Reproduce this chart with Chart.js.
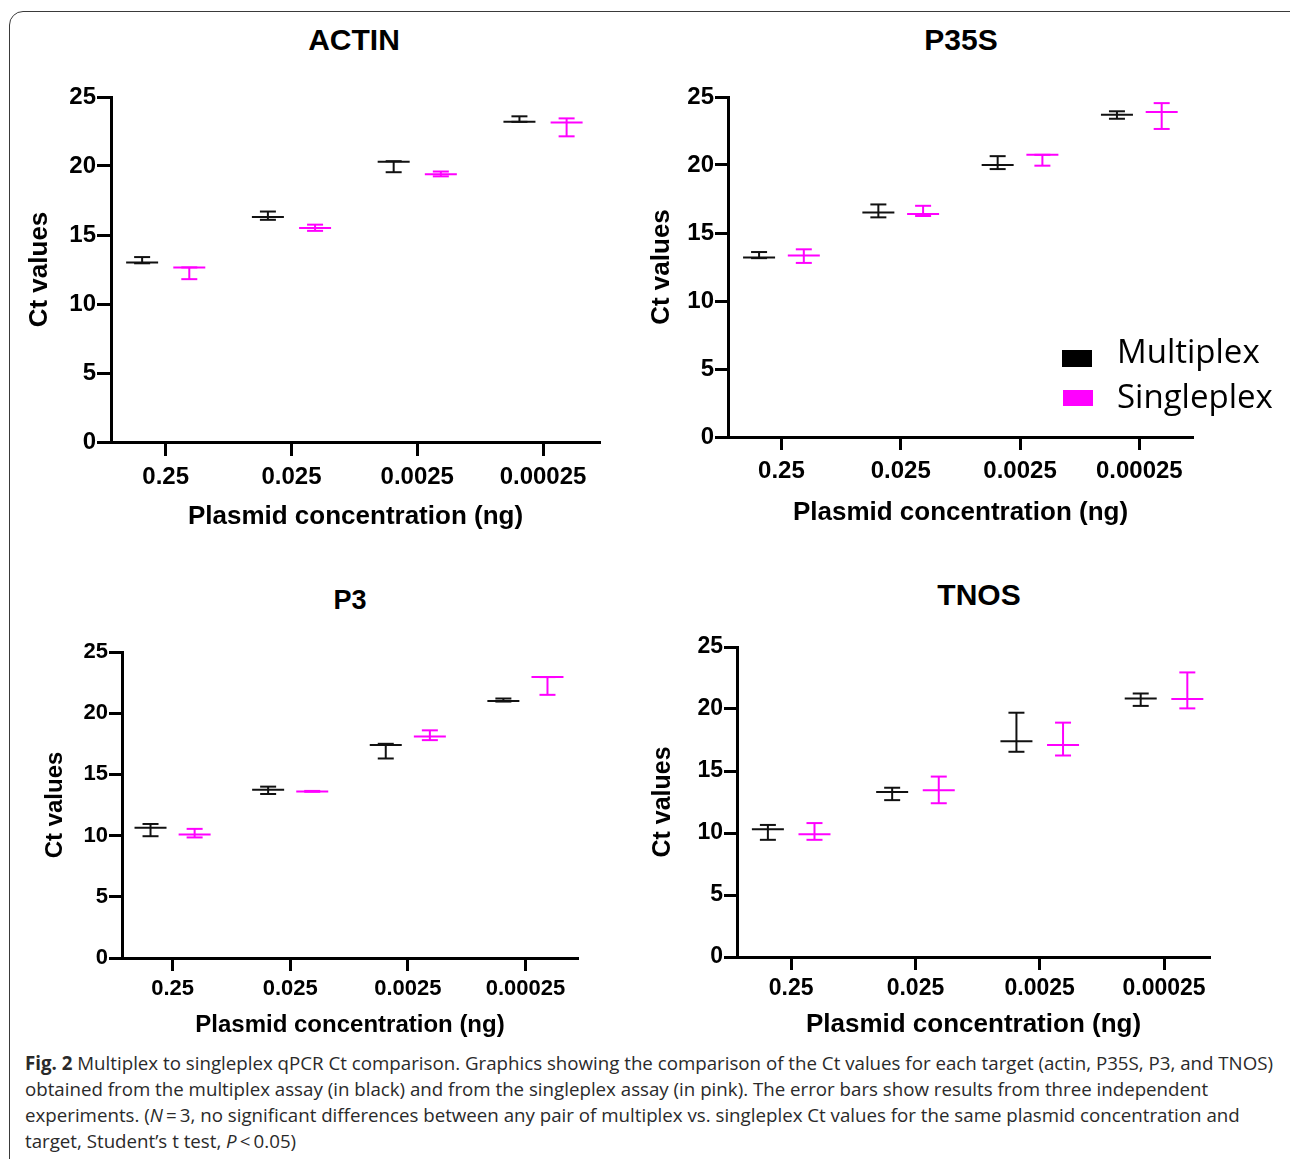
<!DOCTYPE html>
<html>
<head>
<meta charset="utf-8">
<script src="https://cdn.jsdelivr.net/npm/chart.js@4.4.0/dist/chart.umd.min.js"></script>
<style>
  body { margin: 0; background: #fff; }
  #page { position: relative; width: 1290px; height: 1159px; overflow: hidden; background: #fff; }
  #frame { position: absolute; left: 9px; top: 11px; width: 1320px; height: 1220px; border: 1.5px solid #3a3a3a; border-radius: 14px; }
  canvas { position: absolute; }
  .ttl { position: absolute; font-family: "Liberation Sans", Arial, sans-serif; font-weight: bold; line-height: 1; color: #000; transform: translate(-50%, -50%); white-space: nowrap; }
  .lg-box { position: absolute; }
  .lg-txt { position: absolute; font-family: "Open Sans", sans-serif; font-size: 33px; line-height: 1; color: #000; transform: translateY(-50%); white-space: nowrap; }
  #caption { position: absolute; left: 25px; top: 1050px; font-family: "Open Sans", sans-serif; font-size: 19px; line-height: 26px; color: #2a2a2a; transform-origin: 0 0; white-space: nowrap; }
</style>
</head>
<body>
<div id="page">
  <div id="frame"></div>

  <div class="ttl" style="left:354px; top:40px; font-size:30px;">ACTIN</div>
  <div class="ttl" style="left:961px; top:40px; font-size:30px;">P35S</div>
  <div class="ttl" style="left:350px; top:600px; font-size:27px;">P3</div>
  <div class="ttl" style="left:979px; top:595px; font-size:30px;">TNOS</div>

  <canvas id="actin"></canvas>
  <canvas id="p35s"></canvas>
  <canvas id="p3"></canvas>
  <canvas id="tnos"></canvas>

  <!-- legend sits inside the P35S panel -->
  <div class="lg-box" style="left:1062px; top:350px; width:30px; height:17px; background:#000;"></div>
  <div class="lg-box" style="left:1063px; top:390px; width:30px; height:16px; background:#ff00ff;"></div>
  <div class="lg-txt" style="left:1117px; top:350px;">Multiplex</div>
  <div class="lg-txt" style="left:1117px; top:395px;">Singleplex</div>

  <div id="caption">
    <div id="capLine1"><b>Fig. 2</b> Multiplex to singleplex qPCR Ct comparison. Graphics showing the comparison of the Ct values for each target (actin, P35S, P3, and TNOS)</div>
    <div>obtained from the multiplex assay (in black) and from the singleplex assay (in pink). The error bars show results from three independent</div>
    <div>experiments. (<i>N</i>&#8201;=&#8201;3, no significant differences between any pair of multiplex vs. singleplex Ct values for the same plasmid concentration and</div>
    <div>target, Student’s t test, <i>P</i>&#8201;&lt;&#8201;0.05)</div>
  </div>
</div>

<script>
// categories (plasmid concentration, ng)
const concLabels = ['0.25', '0.025', '0.0025', '0.00025'];

// ACTIN
const actinMultiMean   = [13.0, 16.3, 20.3, 23.2];
const actinMultiLow    = [12.95, 16.1, 19.55, 23.2];
const actinMultiHigh   = [13.4, 16.7, 20.35, 23.6];
const actinSingleMean  = [12.65, 15.5, 19.4, 23.15];
const actinSingleLow   = [11.8, 15.3, 19.25, 22.15];
const actinSingleHigh  = [12.65, 15.75, 19.6, 23.45];

// P35S
const p35sMultiMean    = [13.2, 16.5, 20.0, 23.7];
const p35sMultiLow     = [13.15, 16.15, 19.7, 23.4];
const p35sMultiHigh    = [13.6, 17.1, 20.65, 23.95];
const p35sSingleMean   = [13.35, 16.4, 20.75, 23.9];
const p35sSingleLow    = [12.8, 16.25, 19.95, 22.65];
const p35sSingleHigh   = [13.8, 17.0, 20.75, 24.55];

// P3
const p3MultiMean      = [10.65, 13.75, 17.4, 21.0];
const p3MultiLow       = [9.95, 13.4, 16.3, 20.95];
const p3MultiHigh      = [10.95, 14.0, 17.5, 21.2];
const p3SingleMean     = [10.1, 13.6, 18.1, 22.95];
const p3SingleLow      = [9.85, 13.58, 17.8, 21.5];
const p3SingleHigh     = [10.55, 13.65, 18.6, 22.95];

// TNOS
const tnosMultiMean    = [10.3, 13.3, 17.4, 20.85];
const tnosMultiLow     = [9.45, 12.65, 16.55, 20.25];
const tnosMultiHigh    = [10.65, 13.65, 19.7, 21.25];
const tnosSingleMean   = [9.9, 13.45, 17.1, 20.8];
const tnosSingleLow    = [9.45, 12.4, 16.25, 20.05];
const tnosSingleHigh   = [10.8, 14.55, 18.9, 22.95];

const black = '#111111';
const pink = '#ff00ff';
const fontFamily = '"Liberation Sans", Arial, sans-serif';

// mean line + caps, the stem itself is the thin floating bar
const errorBars = {
    id: 'errorBars',
    afterDatasetsDraw(chart) {
        const ctx = chart.ctx;
        const yScale = chart.scales.y;
        chart.data.datasets.forEach((ds, di) => {
            const meta = chart.getDatasetMeta(di);
            ctx.save();
            ctx.strokeStyle = ds.backgroundColor;
            ctx.lineWidth = 2;
            meta.data.forEach((bar, i) => {
                const hline = (val, half) => {
                    const py = yScale.getPixelForValue(val);
                    ctx.beginPath();
                    ctx.moveTo(bar.x - half, py);
                    ctx.lineTo(bar.x + half, py);
                    ctx.stroke();
                };
                hline(ds.means[i], 16);
                hline(ds.data[i].y[0], 8);
                hline(ds.data[i].y[1], 8);
            });
            ctx.restore();
        });
    }
};

function makePanel(id, p) {
    const canvas = document.getElementById(id);
    const left = p.l - p.yW;
    const top = p.t - 20;
    const width = p.r + 12 - left;
    const height = p.b + p.xH - top;
    canvas.width = width;
    canvas.height = height;
    canvas.style.left = left + 'px';
    canvas.style.top = top + 'px';
    canvas.style.width = width + 'px';
    canvas.style.height = height + 'px';

    const yTitlePad = p.yTitleX - left - p.yTitleSize * 0.6;
    const xTitlePad = (top + height) - p.xTitleY - p.xTitleSize * 0.6;

    // x is the category index, so the axis ends can sit where the figure has them
    const toPoints = (low, high) => low.map((v, i) => ({ x: i, y: [v, high[i]] }));

    return new Chart(canvas.getContext('2d'), {
        type: 'bar',
        data: {
            datasets: [
                {
                    label: 'Multiplex',
                    data: toPoints(p.multiLow, p.multiHigh),
                    means: p.multiMean,
                    backgroundColor: black,
                    maxBarThickness: 2
                },
                {
                    label: 'Singleplex',
                    data: toPoints(p.singleLow, p.singleHigh),
                    means: p.singleMean,
                    backgroundColor: pink,
                    maxBarThickness: 2
                }
            ]
        },
        options: {
            responsive: false,
            animation: false,
            events: [],
            layout: { padding: { top: 20, right: 12, left: 0, bottom: 0 } },
            categoryPercentage: 0.75,
            barPercentage: 1,
            plugins: {
                legend: { display: false },
                tooltip: { enabled: false }
            },
            scales: {
                x: {
                    type: 'linear',
                    min: p.xMin,
                    max: p.xMax,
                    offset: false,
                    afterBuildTicks: (s) => {
                        s.ticks = concLabels.map((_, i) => ({ value: i }));
                    },
                    grid: {
                        offset: false,
                        drawOnChartArea: false,
                        tickLength: p.tickLen,
                        tickWidth: 3,
                        tickColor: '#000'
                    },
                    border: { color: '#000', width: 3 },
                    ticks: {
                        color: '#000',
                        font: { family: fontFamily, weight: 'bold', size: p.tickSize },
                        padding: p.xTickPad,
                        maxRotation: 0,
                        autoSkip: false,
                        callback: (v) => concLabels[v]
                    },
                    title: {
                        display: true,
                        text: 'Plasmid concentration (ng)',
                        color: '#000',
                        font: { family: fontFamily, weight: 'bold', size: p.xTitleSize },
                        padding: { top: 0, bottom: xTitlePad }
                    },
                    afterFit: (s) => { s.height = p.xH; }
                },
                y: {
                    min: 0,
                    max: 25,
                    grid: {
                        drawOnChartArea: false,
                        tickLength: p.tickLen,
                        tickWidth: 3,
                        tickColor: '#000'
                    },
                    border: { color: '#000', width: 3 },
                    ticks: {
                        stepSize: 5,
                        color: '#000',
                        font: { family: fontFamily, weight: 'bold', size: p.tickSize },
                        padding: 1
                    },
                    title: {
                        display: true,
                        text: 'Ct values',
                        color: '#000',
                        font: { family: fontFamily, weight: 'bold', size: p.yTitleSize },
                        padding: { top: yTitlePad, bottom: 0 }
                    },
                    afterFit: (s) => { s.width = p.yW; }
                }
            }
        },
        plugins: [errorBars]
    });
}

makePanel('actin', {
    l: 111, t: 97, r: 600, b: 442, yW: 96, xH: 100, xMin: -0.435, xMax: 3.453,
    tickLen: 14, tickSize: 24, xTickPad: 7, xTitleSize: 26, xTitleY: 517,
    yTitleSize: 26, yTitleX: 40,
    multiMean: actinMultiMean, multiLow: actinMultiLow, multiHigh: actinMultiHigh,
    singleMean: actinSingleMean, singleLow: actinSingleLow, singleHigh: actinSingleHigh
});

makePanel('p35s', {
    l: 728, t: 97, r: 1193, b: 437, yW: 88, xH: 100, xMin: -0.448, xMax: 3.45,
    tickLen: 13, tickSize: 24, xTickPad: 7, xTitleSize: 26, xTitleY: 513,
    yTitleSize: 26, yTitleX: 662,
    multiMean: p35sMultiMean, multiLow: p35sMultiLow, multiHigh: p35sMultiHigh,
    singleMean: p35sSingleMean, singleLow: p35sSingleLow, singleHigh: p35sSingleHigh
});

makePanel('p3', {
    l: 122, t: 652, r: 578, b: 958, yW: 97, xH: 90, xMin: -0.43, xMax: 3.447,
    tickLen: 13, tickSize: 22, xTickPad: 5, xTitleSize: 24, xTitleY: 1025,
    yTitleSize: 24, yTitleX: 55,
    multiMean: p3MultiMean, multiLow: p3MultiLow, multiHigh: p3MultiHigh,
    singleMean: p3SingleMean, singleLow: p3SingleLow, singleHigh: p3SingleHigh
});

makePanel('tnos', {
    l: 737, t: 647, r: 1210, b: 957, yW: 97, xH: 90, xMin: -0.436, xMax: 3.37,
    tickLen: 13, tickSize: 23, xTickPad: 5, xTitleSize: 26, xTitleY: 1025,
    yTitleSize: 25, yTitleX: 663,
    multiMean: tnosMultiMean, multiLow: tnosMultiLow, multiHigh: tnosMultiHigh,
    singleMean: tnosSingleMean, singleLow: tnosSingleLow, singleHigh: tnosSingleHigh
});

// the caption font in the figure is condensed, squeeze to the same line length
const cap = document.getElementById('caption');
const line1 = document.getElementById('capLine1');
const range = document.createRange();
range.selectNodeContents(line1);
const natural = range.getBoundingClientRect().width;
cap.style.transform = 'scaleX(' + (1248 / natural) + ')';
</script>
</body>
</html>
